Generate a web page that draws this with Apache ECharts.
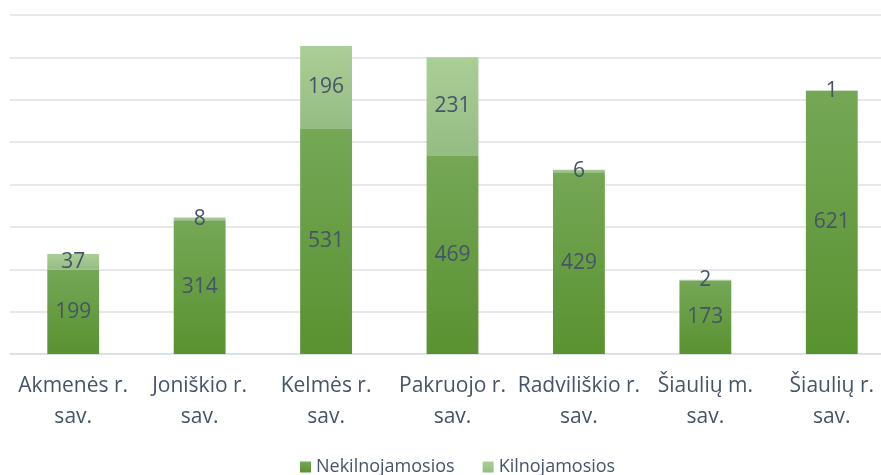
<!DOCTYPE html>
<html>
<head>
<meta charset="utf-8">
<script src="https://cdn.jsdelivr.net/npm/echarts@6/dist/echarts.min.js"></script>
<style>
  html, body { margin: 0; padding: 0; background: #ffffff; }
  #chart { width: 881px; height: 475px; }
</style>
</head>
<body>
<div id="chart"></div>
<script>
// Municipalities of the Šiauliai county
const categories = [
  'Akmenės r.\nsav.', 'Joniškio r.\nsav.', 'Kelmės r.\nsav.', 'Pakruojo r.\nsav.',
  'Radviliškio r.\nsav.', 'Šiaulių m.\nsav.', 'Šiaulių r.\nsav.'
];
// Immovable property
const nekilnojamosios = [199, 314, 531, 469, 429, 173, 621];
// Movable property
const kilnojamosios = [37, 8, 196, 231, 6, 2, 1];

const FONT = '"Open Sans", "Noto Sans", sans-serif';
const TEXT = '#44546a';

function vGrad(top, bottom) {
  return new echarts.graphic.LinearGradient(0, 0, 0, 1, [
    { offset: 0, color: top },
    { offset: 1, color: bottom }
  ]);
}

const chart = echarts.init(document.getElementById('chart'), null, { renderer: 'canvas' });

const label = {
  show: true,
  position: 'inside',
  color: TEXT,
  fontFamily: FONT,
  fontSize: 21
};

chart.setOption({
  animation: false,
  textStyle: { fontFamily: FONT },
  grid: {
    left: 10, top: 15, width: 885, height: 339,
    containLabel: false,
    outerBoundsMode: 'none'
  },
  legend: {
    top: 453,
    left: 295,
    itemWidth: 11,
    itemHeight: 11,
    itemGap: 28,
    icon: 'rect',
    textStyle: { color: TEXT, fontFamily: FONT, fontSize: 18 },
    data: ['Nekilnojamosios', 'Kilnojamosios']
  },
  xAxis: {
    type: 'category',
    data: categories,
    axisLine: { show: true, lineStyle: { color: '#dadde2', width: 1.5 } },
    axisTick: { show: false },
    axisLabel: {
      color: TEXT,
      fontFamily: FONT,
      fontSize: 21,
      lineHeight: 31,
      margin: 17,
      interval: 0
    }
  },
  yAxis: {
    type: 'value',
    min: 0,
    max: 800,
    interval: 100,
    axisLabel: { show: false },
    axisLine: { show: false },
    axisTick: { show: false },
    splitLine: { lineStyle: { color: '#dee1e6', width: 1.5 } }
  },
  series: [
    {
      name: 'Nekilnojamosios',
      type: 'bar',
      stack: 'total',
      barWidth: '41%',
      data: nekilnojamosios,
      itemStyle: { color: vGrad('#75a756', '#599230') },
      label: label
    },
    {
      name: 'Kilnojamosios',
      type: 'bar',
      stack: 'total',
      barWidth: '41%',
      data: kilnojamosios,
      itemStyle: { color: vGrad('#aacf96', '#95bc83') },
      label: label
    }
  ]
});
</script>
</body>
</html>
